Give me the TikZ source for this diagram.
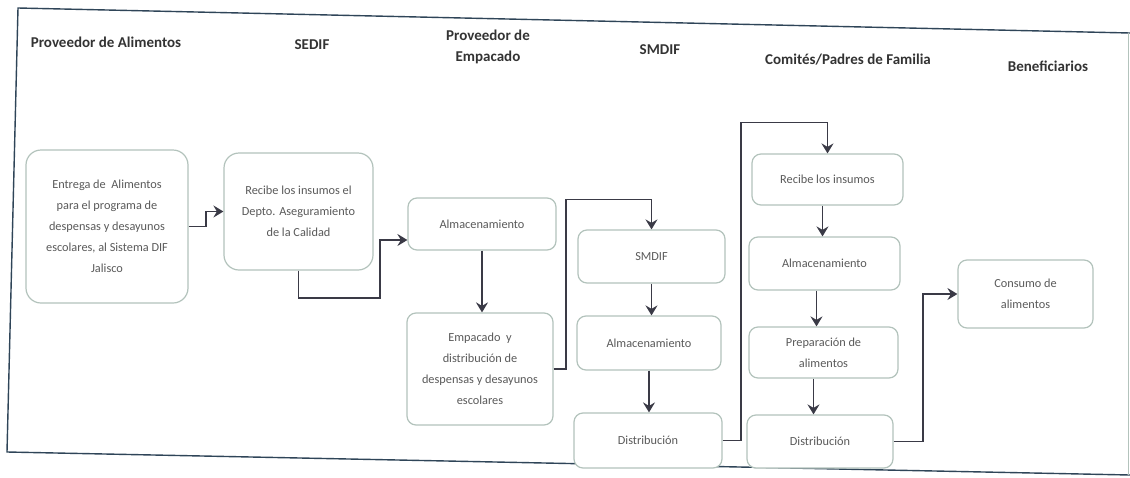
\documentclass[tikz,border=0pt]{standalone}
\usepackage{fontspec}
\setmainfont{Carlito}
\usepackage{tikz}
\usetikzlibrary{calc,positioning,arrows.meta}

\definecolor{boxline}{HTML}{B3C3BC}
\definecolor{boxtext}{HTML}{5A5A5A}
\definecolor{arrowcol}{HTML}{3A3A46}
\definecolor{framecol}{HTML}{2F4558}
\definecolor{headcol}{HTML}{333333}

\tikzset{
    stepbox/.style={draw=boxline, line width=1.2pt, rounded corners=9pt, fill=white,
        text=boxtext, align=center, inner sep=0pt,
        font=\fontsize{12.3}{21}\selectfont},
    bigbox/.style={stepbox, rounded corners=15pt},
    heading/.style={text=headcol, align=center, font=\fontsize{15}{21}\selectfont\bfseries},
    flow/.style={-{Stealth[length=10pt,width=12pt,inset=3.5pt]}, draw=arrowcol, line width=1.8pt}
}

\begin{document}
\begin{tikzpicture}[x=1pt,y=-1pt]
\useasboundingbox (0,0) rectangle (1130,477);
\fill[white] (0,0) rectangle (1130,477);

% frame of the scan
\draw[framecol, line width=1.4pt] (1130,33) -- (18,8) -- (7,452) -- (1130,475);
\draw[boxline, line width=0.8pt] (1128,33) -- (1128,475);

% headings
\node[heading] (hprov) at (106,42) {Proveedor de Alimentos};
\node[heading] (hsedif) at (312,45) {SEDIF};
\node[heading] (hemp) at (488,47) {Proveedor de\\Empacado};
\node[heading] (hsmdif) at (660,50) {SMDIF};
\node[heading] (hcom) at (848,60) {Comités/Padres de Familia};
\node[heading] (hben) at (1048,66) {Beneficiarios};

% boxes
\node[bigbox, minimum width=162pt, minimum height=153pt] (entrega) at (107,226.5)
    {Entrega de \ Alimentos\\para el programa de\\despensas y desayunos\\escolares, al Sistema DIF\\Jalisco};
\node[bigbox, minimum width=149pt, minimum height=117pt] (recibe) at (298.5,211.5)
    {Recibe los insumos el\\Depto. Aseguramiento\\de la Calidad};
\node[stepbox, minimum width=148pt, minimum height=52pt] (almemp) at (482,224) {Almacenamiento};
\node[stepbox, minimum width=146pt, minimum height=112pt] (empacado) at (480,369)
    {Empacado \ y\\distribución de\\despensas y desayunos\\escolares};
\node[stepbox, minimum width=147pt, minimum height=53pt] (smdif) at (651.5,256.5) {SMDIF};
\node[stepbox, minimum width=144pt, minimum height=54pt] (almsm) at (649,343) {Almacenamiento};
\node[stepbox, minimum width=148pt, minimum height=55pt] (distsm) at (648,440.5) {Distribución};
\node[stepbox, minimum width=151pt, minimum height=51pt] (recibecom) at (827.5,179.5) {Recibe los insumos};
\node[stepbox, minimum width=151pt, minimum height=53pt] (almcom) at (824.5,263.5) {Almacenamiento};
\node[stepbox, minimum width=149pt, minimum height=51pt] (prep) at (823.5,352.5) {Preparación de\\alimentos};
\node[stepbox, minimum width=146pt, minimum height=53pt] (distcom) at (820,441.5) {Distribución};
\node[stepbox, minimum width=135pt, minimum height=68pt] (consumo) at (1025.5,294) {Consumo de\\alimentos};

% connectors
\draw[flow] (entrega.east) -- ++(17,0) |- (recibe.west);
\draw[flow] (recibe.south) -- ++(0,27) -| (380,240) -- ([yshift=-16pt]almemp.west);
\draw[flow] (almemp.south) -- (almemp.south |- empacado.north);
\draw[flow] (empacado.east) -- ++(12,0) |- ([yshift=30pt]smdif.north) -- (smdif.north);
\draw[flow] (smdif.south) -- (smdif.south |- almsm.north);
\draw[flow] (almsm.south) -- (almsm.south |- distsm.north);
\draw[flow] (distsm.east) -- ++(18,0) |- ([yshift=31pt]recibecom.north) -- (recibecom.north);
\draw[flow] ([xshift=-5pt]recibecom.south) -- ([xshift=-5pt]recibecom.south |- almcom.north);
\draw[flow] ([xshift=-8pt]almcom.south) -- ([xshift=-8pt]almcom.south |- prep.north);
\draw[flow] ([xshift=-10pt]prep.south) -- ([xshift=-10pt]prep.south |- distcom.north);
\draw[flow] (distcom.east) -- ++(29,0) |- (consumo.west);

\end{tikzpicture}
\end{document}
